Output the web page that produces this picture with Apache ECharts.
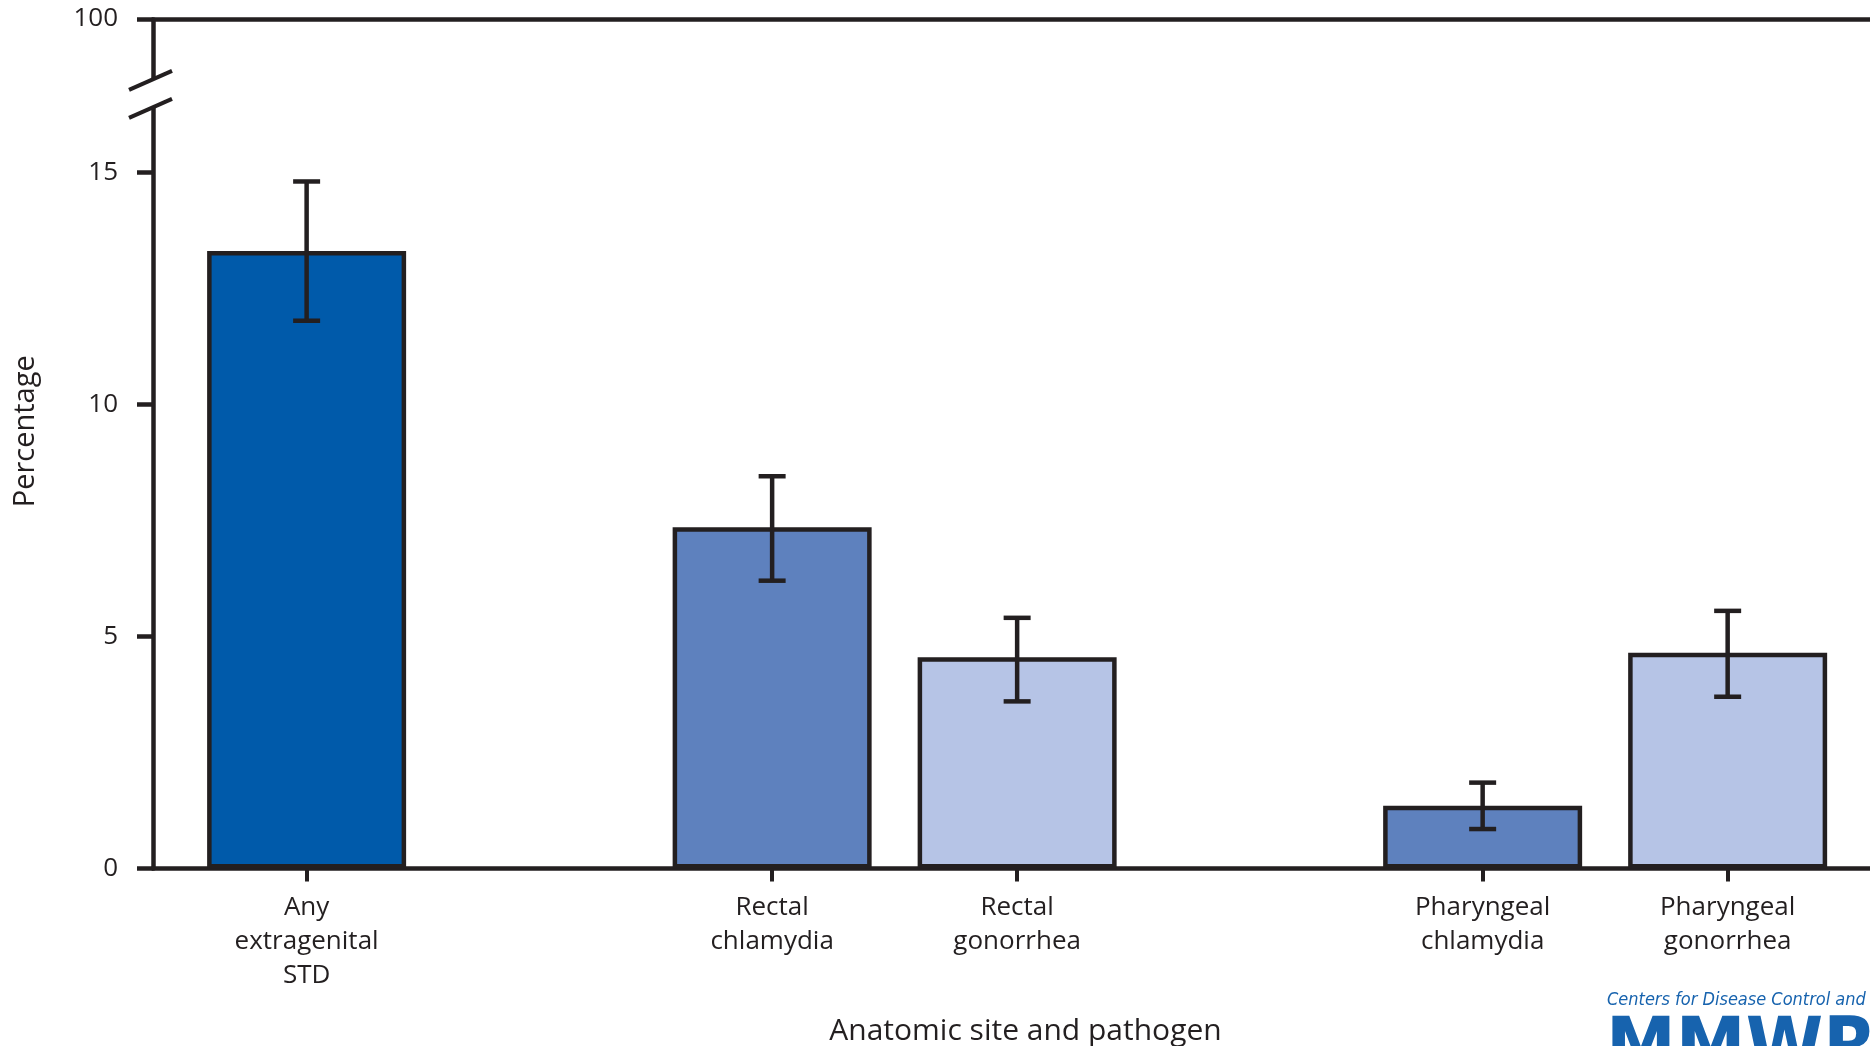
<!DOCTYPE html>
<html>
<head>
<meta charset="utf-8">
<script src="https://cdn.jsdelivr.net/npm/echarts@6.0.0/dist/echarts.min.js"></script>
<style>
  html, body { margin: 0; padding: 0; background: #ffffff; }
  #chart { width: 1870px; height: 1046px; }
</style>
</head>
<body>
<div id="chart"></div>
<script>
// Extragenital STD positivity by anatomic site and pathogen (percent, 95% CI)
const categories = [
  'Any\nextragenital\nSTD',
  'Rectal\nchlamydia',
  'Rectal\ngonorrhea',
  'Pharyngeal\nchlamydia',
  'Pharyngeal\ngonorrhea'
];
const sites = ['Any', 'Rectal', 'Rectal', 'Pharyngeal', 'Pharyngeal'];
const pathogens = ['Any', 'Chlamydia', 'Gonorrhea', 'Chlamydia', 'Gonorrhea'];
const percentages = [13.3, 7.35, 4.55, 1.35, 4.65];
const ciLower = [11.8, 6.2, 3.6, 0.85, 3.7];
const ciUpper = [14.8, 8.45, 5.4, 1.85, 5.55];
const yTickValues = [0, 5, 10, 15, 100];

// Styling
const INK = '#231f20';
const FONT = "'Open Sans', 'Noto Sans', sans-serif";
const pathogenColors = { Any: '#005aaa', Chlamydia: '#5e81be', Gonorrhea: '#b6c4e6' };
const LOGO_BLUE = '#1763ae';

// Bars of the same site sit one step apart; a new site starts a wider step away
const GROUP_STEP = 1.9;
const xPos = [];
sites.forEach((s, i) => {
  xPos.push(i === 0 ? 0 : xPos[i - 1] + (s === sites[i - 1] ? 1 : GROUP_STEP));
});
const X_MIN = -0.627, X_MAX = 6.381;

// Compressed stretch of the percentage axis between 15 and 100
const Y_BREAK = { start: 16.4, end: 98.7, gap: 0.6 };

function labelFor(v) {
  for (let i = 0; i < xPos.length; i++) {
    if (Math.abs(xPos[i] - v) < 1e-6) return categories[i];
  }
  return '';
}

const chart = echarts.init(document.getElementById('chart'), null, { renderer: 'canvas' });

const lineStyle = { color: INK, width: 4.5 };

const option = {
  backgroundColor: '#ffffff',
  animation: false,
  grid: { left: 153, right: 0, top: 19, bottom: 177.5, containLabel: false, outerBoundsMode: 'none' },
  xAxis: [
    {
      type: 'value',
      min: X_MIN,
      max: X_MAX,
      position: 'bottom',
      splitLine: { show: false },
      axisLine: { show: true, onZero: false, lineStyle: lineStyle },
      axisTick: { show: true, customValues: xPos, length: 13, inside: false, lineStyle: { color: INK, width: 4 } },
      axisLabel: {
        customValues: xPos,
        formatter: labelFor,
        margin: 22,
        fontFamily: FONT,
        fontSize: 26,
        lineHeight: 34,
        color: INK,
        align: 'center'
      },
      name: 'Anatomic site and pathogen',
      nameLocation: 'middle',
      nameGap: 148,
      nameTextStyle: { fontFamily: FONT, fontSize: 30, color: INK, padding: [0, 0, 0, 28] }
    },
    {
      type: 'value',
      min: X_MIN,
      max: X_MAX,
      position: 'top',
      splitLine: { show: false },
      axisLine: { show: true, onZero: false, lineStyle: lineStyle },
      axisTick: { show: false },
      axisLabel: { show: false }
    }
  ],
  yAxis: {
    type: 'value',
    min: 0,
    max: 100,
    interval: 5,
    breaks: [Y_BREAK],
    breakArea: { show: false },
    splitLine: { show: false },
    axisLine: { show: true, onZero: false, lineStyle: lineStyle },
    axisTick: { show: true, customValues: yTickValues, length: 16, lineStyle: lineStyle },
    axisLabel: {
      customValues: yTickValues,
      margin: 35,
      fontFamily: FONT,
      fontSize: 26,
      color: INK
    },
    name: 'Percentage',
    nameLocation: 'middle',
    nameGap: 113,
    nameTextStyle: { fontFamily: FONT, fontSize: 29, color: INK, padding: [0, 0, 0, 25] }
  },
  series: [
    {
      type: 'bar',
      xAxisIndex: 0,
      barWidth: 199,
      data: xPos.map((x, i) => ({
        value: [x, percentages[i]],
        itemStyle: { color: pathogenColors[pathogens[i]] }
      })),
      itemStyle: { borderColor: INK, borderWidth: 4.5 },
      z: 2
    },
    {
      type: 'custom',
      xAxisIndex: 0,
      z: 5,
      encode: { x: 0, y: [1, 2] },
      data: xPos.map((x, i) => [x, ciLower[i], ciUpper[i]]),
      renderItem: function (params, api) {
        const x = api.value(0);
        const lo = api.coord([x, api.value(1)]);
        const hi = api.coord([x, api.value(2)]);
        const half = 13.5;
        const st = { stroke: INK, lineWidth: 4.5, lineCap: 'butt' };
        return {
          type: 'group',
          children: [
            { type: 'line', shape: { x1: hi[0], y1: hi[1], x2: lo[0], y2: lo[1] }, style: st },
            { type: 'line', shape: { x1: hi[0] - half, y1: hi[1], x2: hi[0] + half, y2: hi[1] }, style: st },
            { type: 'line', shape: { x1: lo[0] - half, y1: lo[1], x2: lo[0] + half, y2: lo[1] }, style: st }
          ]
        };
      }
    }
  ]
};

chart.setOption(option);

// Break marks on the percentage axis plus the source logo text
const axisX = chart.convertToPixel({ xAxisIndex: 0 }, X_MIN);
const yLow = chart.convertToPixel({ yAxisIndex: 0 }, Y_BREAK.start);
const yHigh = chart.convertToPixel({ yAxisIndex: 0 }, Y_BREAK.end);
const slope = 19 / 43;
function slash(yc) {
  return {
    type: 'line',
    shape: { x1: axisX - 24, y1: yc + 24 * slope, x2: axisX + 19, y2: yc - 19 * slope },
    style: { stroke: INK, lineWidth: 4 },
    z: 20
  };
}
chart.setOption({
  graphic: [
    {
      type: 'polygon',
      shape: {
        points: [
          [axisX - 8, yHigh + 8 * slope],
          [axisX + 8, yHigh - 8 * slope],
          [axisX + 8, yLow - 8 * slope],
          [axisX - 8, yLow + 8 * slope]
        ]
      },
      style: { fill: '#ffffff' },
      z: 19
    },
    slash(yHigh),
    slash(yLow),
    {
      type: 'text',
      left: 1607,
      top: 991,
      style: {
        text: 'Centers for Disease Control and',
        fontFamily: "'Liberation Sans Narrow', 'DejaVu Sans Condensed', 'Open Sans', sans-serif",
        fontStyle: 'italic',
        fontSize: 18,
        fill: LOGO_BLUE
      },
      z: 20
    },
    {
      type: 'text',
      left: 1606,
      top: 1014,
      style: {
        text: 'MMWR',
        fontFamily: "'Liberation Sans Narrow', 'DejaVu Sans Condensed', sans-serif",
        fontWeight: 900,
        fontSize: 78,
        fill: LOGO_BLUE
      },
      z: 20
    }
  ]
});
</script>
</body>
</html>
